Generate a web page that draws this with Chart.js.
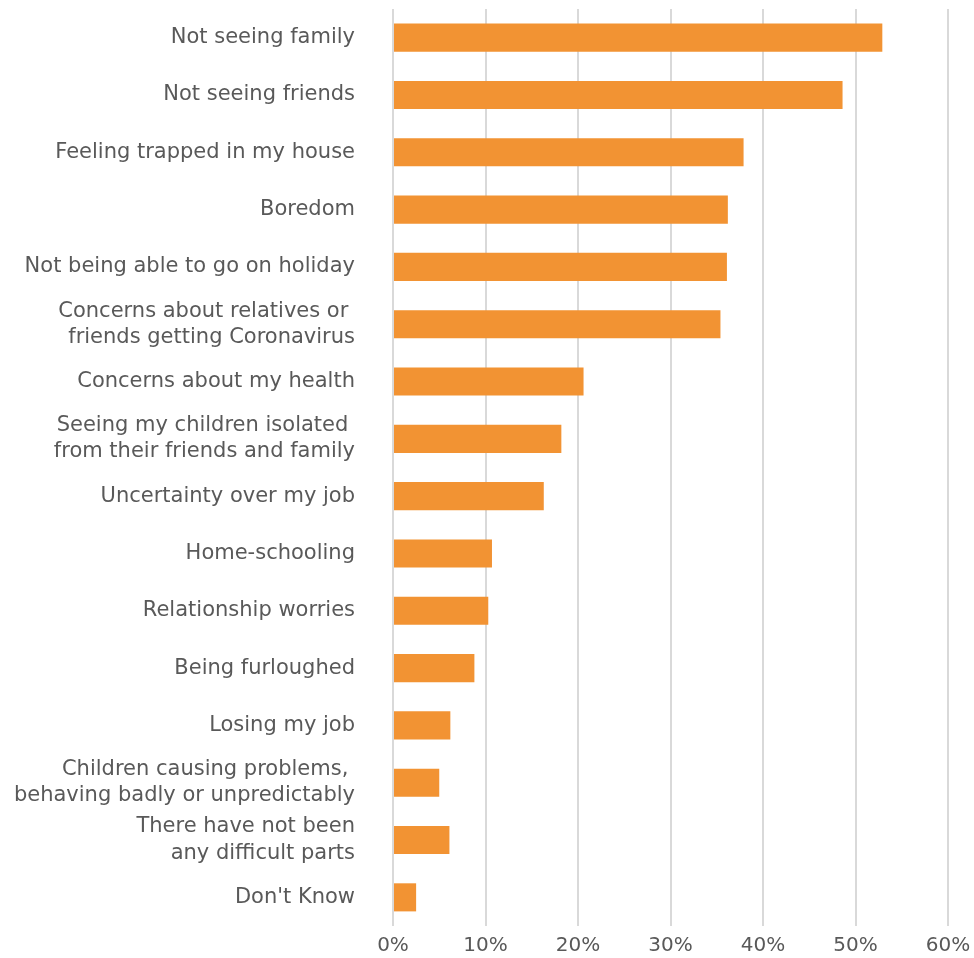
<!DOCTYPE html>
<html>
<head>
<meta charset="utf-8">
<title>Most difficult parts of lockdown</title>
<script src="https://cdn.jsdelivr.net/npm/chart.js@4.4.0/dist/chart.umd.min.js"></script>
<style>
  html, body { margin: 0; padding: 0; background: #fff; }
  #wrap { width: 974px; height: 958px; }
</style>
</head>
<body>
<div id="wrap"><canvas id="lockdownChart" width="974" height="958"></canvas></div>
<script>
// answers, top to bottom
const answers = [
  'Not seeing family',
  'Not seeing friends',
  'Feeling trapped in my house',
  'Boredom',
  'Not being able to go on holiday',
  ['Concerns about relatives or ', 'friends getting Coronavirus'],
  'Concerns about my health',
  ['Seeing my children isolated ', 'from their friends and family'],
  'Uncertainty over my job',
  'Home-schooling',
  'Relationship worries',
  'Being furloughed',
  'Losing my job',
  ['Children causing problems, ', 'behaving badly or unpredictably'],
  ['There have not been', 'any difficult parts'],
  "Don't Know"
];

// share of respondents, %
const shares = [52.9, 48.6, 37.9, 36.2, 36.1, 35.4, 20.6, 18.2, 16.3, 10.7, 10.3, 8.8, 6.2, 5.0, 6.1, 2.5];

const xTicks = [0, 10, 20, 30, 40, 50, 60];

const textColor = '#595959';
const gridColor = '#d9d9d9';
const barColor = '#f29333';
const fontFamily = "'DejaVu Sans', sans-serif";

new Chart(document.getElementById('lockdownChart'), {
  type: 'bar',
  data: {
    labels: answers,
    datasets: [{
      data: shares,
      backgroundColor: barColor,
      borderWidth: 0,
      categoryPercentage: 1,
      barPercentage: 0.49
    }]
  },
  options: {
    indexAxis: 'y',
    responsive: false,
    animation: false,
    layout: { padding: { top: 9, right: 26, bottom: 0, left: 0 } },
    plugins: {
      legend: { display: false },
      tooltip: { enabled: false }
    },
    scales: {
      x: {
        min: 0,
        max: 60,
        afterBuildTicks: (scale) => {
          scale.ticks = xTicks.map(v => ({ value: v }));
        },
        afterFit: (scale) => {
          scale.height = 32;
          scale.paddingRight = 0;
        },
        grid: { color: gridColor, lineWidth: 2, drawTicks: false },
        border: { display: false },
        ticks: {
          color: textColor,
          font: { family: fontFamily, size: 20 },
          padding: 8,
          callback: (v) => v + '%'
        }
      },
      y: {
        // fixed label column; the tick padding should not eat vertical space
        afterFit: (scale) => {
          scale.width = 393;
          scale.paddingTop = 0;
          scale.paddingBottom = 0;
        },
        grid: { display: false, drawTicks: false },
        border: { display: false },
        ticks: {
          autoSkip: false,
          color: textColor,
          font: { family: fontFamily, size: 21, lineHeight: 1.24 },
          padding: 38
        }
      }
    }
  }
});
</script>
</body>
</html>
